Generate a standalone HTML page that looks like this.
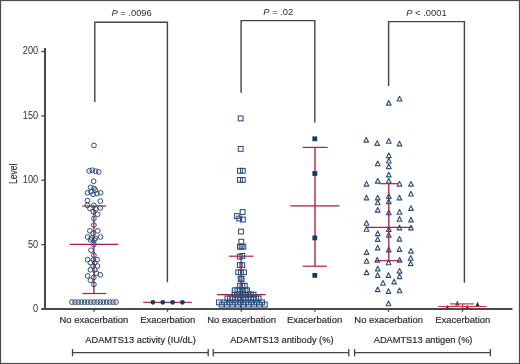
<!DOCTYPE html>
<html><head><meta charset="utf-8"><style>
html,body{margin:0;padding:0;background:#fff;width:520px;height:364px;overflow:hidden}
svg{display:block;will-change:transform}
</style></head><body>
<svg width="520" height="364" viewBox="0 0 520 364">
<rect x="0" y="0" width="520" height="364" fill="#fff"/>
<line x1="93.9" y1="205.6" x2="93.9" y2="293.5" stroke="#b41c42" stroke-width="1.35"/>
<line x1="69.6" y1="244.4" x2="118.1" y2="244.4" stroke="#b41c42" stroke-width="1.2"/>
<line x1="82.3" y1="206.0" x2="106.3" y2="206.0" stroke="#b41c42" stroke-width="1.2"/>
<line x1="82.3" y1="293.5" x2="106.3" y2="293.5" stroke="#b41c42" stroke-width="1.2"/>
<line x1="143.2" y1="302.3" x2="191.9" y2="302.3" stroke="#c0304c" stroke-width="1.2"/>
<line x1="241.1" y1="256.2" x2="241.1" y2="308" stroke="#b41c42" stroke-width="1.35"/>
<line x1="217" y1="294.7" x2="265.6" y2="294.7" stroke="#b41c42" stroke-width="1.2"/>
<line x1="228.9" y1="256.2" x2="253.4" y2="256.2" stroke="#b41c42" stroke-width="1.2"/>
<line x1="315" y1="147.4" x2="315" y2="266.2" stroke="#b41c42" stroke-width="1.35"/>
<line x1="290.3" y1="205.9" x2="339.4" y2="205.9" stroke="#b41c42" stroke-width="1.2"/>
<line x1="302.7" y1="147.4" x2="327.7" y2="147.4" stroke="#b41c42" stroke-width="1.2"/>
<line x1="302.7" y1="266.2" x2="326.9" y2="266.2" stroke="#b41c42" stroke-width="1.2"/>
<line x1="388.8" y1="183.7" x2="388.8" y2="260.7" stroke="#b41c42" stroke-width="1.35"/>
<line x1="366.9" y1="227.4" x2="412.3" y2="227.4" stroke="#b41c42" stroke-width="1.2"/>
<line x1="379.7" y1="183.7" x2="398.2" y2="183.7" stroke="#b41c42" stroke-width="1.2"/>
<line x1="375" y1="260.7" x2="401.8" y2="260.7" stroke="#b41c42" stroke-width="1.2"/>
<g fill="none" stroke="#2b4d7c" stroke-width="1.0"><circle cx="94.00" cy="145.40" r="2.35"/><circle cx="89.20" cy="170.90" r="2.35"/><circle cx="92.30" cy="170.20" r="2.35"/><circle cx="95.50" cy="171.20" r="2.35"/><circle cx="98.80" cy="171.90" r="2.35"/><circle cx="93.60" cy="181.30" r="2.35"/><circle cx="90.70" cy="187.40" r="2.35"/><circle cx="94.00" cy="188.30" r="2.35"/><circle cx="95.30" cy="190.20" r="2.35"/><circle cx="87.60" cy="192.80" r="2.35"/><circle cx="91.00" cy="191.80" r="2.35"/><circle cx="93.10" cy="194.40" r="2.35"/><circle cx="96.90" cy="193.60" r="2.35"/><circle cx="100.60" cy="192.80" r="2.35"/><circle cx="87.40" cy="200.50" r="2.35"/><circle cx="100.30" cy="201.10" r="2.35"/><circle cx="87.40" cy="205.40" r="2.35"/><circle cx="93.90" cy="205.40" r="2.35"/><circle cx="89.90" cy="208.40" r="2.35"/><circle cx="100.30" cy="207.90" r="2.35"/><circle cx="95.80" cy="208.90" r="2.35"/><circle cx="93.40" cy="211.80" r="2.35"/><circle cx="97.60" cy="214.30" r="2.35"/><circle cx="93.90" cy="218.50" r="2.35"/><circle cx="93.90" cy="225.10" r="2.35"/><circle cx="89.90" cy="230.90" r="2.35"/><circle cx="97.80" cy="230.90" r="2.35"/><circle cx="93.10" cy="233.20" r="2.35"/><circle cx="87.60" cy="237.00" r="2.35"/><circle cx="100.50" cy="237.00" r="2.35"/><circle cx="91.50" cy="238.10" r="2.35"/><circle cx="95.30" cy="238.30" r="2.35"/><circle cx="90.40" cy="239.80" r="2.35"/><circle cx="94.20" cy="239.80" r="2.35"/><circle cx="93.90" cy="244.40" r="2.35"/><circle cx="91.00" cy="250.20" r="2.35"/><circle cx="93.90" cy="255.20" r="2.35"/><circle cx="87.60" cy="259.60" r="2.35"/><circle cx="93.40" cy="259.80" r="2.35"/><circle cx="97.20" cy="259.60" r="2.35"/><circle cx="90.40" cy="262.70" r="2.35"/><circle cx="94.80" cy="262.70" r="2.35"/><circle cx="93.10" cy="266.00" r="2.35"/><circle cx="97.50" cy="266.00" r="2.35"/><circle cx="90.40" cy="269.80" r="2.35"/><circle cx="94.80" cy="269.80" r="2.35"/><circle cx="96.40" cy="273.10" r="2.35"/><circle cx="100.30" cy="274.80" r="2.35"/><circle cx="87.60" cy="275.90" r="2.35"/><circle cx="93.70" cy="277.50" r="2.35"/><circle cx="90.40" cy="280.30" r="2.35"/><circle cx="93.90" cy="284.50" r="2.35"/><circle cx="71.90" cy="302.10" r="2.35"/><circle cx="75.06" cy="302.10" r="2.35"/><circle cx="78.21" cy="302.10" r="2.35"/><circle cx="81.37" cy="302.10" r="2.35"/><circle cx="84.53" cy="302.10" r="2.35"/><circle cx="87.69" cy="302.10" r="2.35"/><circle cx="90.84" cy="302.10" r="2.35"/><circle cx="94.00" cy="302.10" r="2.35"/><circle cx="97.16" cy="302.10" r="2.35"/><circle cx="100.31" cy="302.10" r="2.35"/><circle cx="103.47" cy="302.10" r="2.35"/><circle cx="106.63" cy="302.10" r="2.35"/><circle cx="109.79" cy="302.10" r="2.35"/><circle cx="112.94" cy="302.10" r="2.35"/><circle cx="116.10" cy="302.10" r="2.35"/></g>
<g fill="none" stroke="#2b4d7c" stroke-width="1.05"><rect x="238.30" y="116.00" width="4.8" height="4.8"/><rect x="238.30" y="146.50" width="4.8" height="4.8"/><rect x="237.50" y="168.40" width="4.8" height="4.8"/><rect x="240.40" y="168.40" width="4.8" height="4.8"/><rect x="237.50" y="177.50" width="4.8" height="4.8"/><rect x="240.40" y="177.50" width="4.8" height="4.8"/><rect x="240.20" y="209.60" width="4.8" height="4.8"/><rect x="234.50" y="213.60" width="4.8" height="4.8"/><rect x="236.80" y="216.10" width="4.8" height="4.8"/><rect x="240.50" y="217.20" width="4.8" height="4.8"/><rect x="238.60" y="229.20" width="4.8" height="4.8"/><rect x="238.90" y="239.30" width="4.8" height="4.8"/><rect x="237.50" y="244.30" width="4.8" height="4.8"/><rect x="239.20" y="244.30" width="4.8" height="4.8"/><rect x="240.90" y="244.30" width="4.8" height="4.8"/><rect x="237.40" y="254.20" width="4.8" height="4.8"/><rect x="239.90" y="253.50" width="4.8" height="4.8"/><rect x="237.40" y="262.70" width="4.8" height="4.8"/><rect x="239.90" y="262.70" width="4.8" height="4.8"/><rect x="235.80" y="269.90" width="4.8" height="4.8"/><rect x="238.50" y="269.90" width="4.8" height="4.8"/><rect x="241.60" y="269.90" width="4.8" height="4.8"/><rect x="238.20" y="276.50" width="4.8" height="4.8"/><rect x="239.20" y="276.50" width="4.8" height="4.8"/><rect x="237.60" y="283.30" width="4.8" height="4.8"/><rect x="240.00" y="283.30" width="4.8" height="4.8"/><rect x="242.40" y="283.30" width="4.8" height="4.8"/><rect x="232.30" y="287.90" width="4.8" height="4.8"/><rect x="235.00" y="287.90" width="4.8" height="4.8"/><rect x="237.70" y="287.90" width="4.8" height="4.8"/><rect x="240.40" y="287.90" width="4.8" height="4.8"/><rect x="243.10" y="287.90" width="4.8" height="4.8"/><rect x="244.70" y="287.90" width="4.8" height="4.8"/><rect x="232.20" y="292.20" width="4.8" height="4.8"/><rect x="234.90" y="292.20" width="4.8" height="4.8"/><rect x="237.60" y="292.20" width="4.8" height="4.8"/><rect x="240.30" y="292.20" width="4.8" height="4.8"/><rect x="243.00" y="292.20" width="4.8" height="4.8"/><rect x="245.70" y="292.20" width="4.8" height="4.8"/><rect x="248.40" y="292.20" width="4.8" height="4.8"/><rect x="251.10" y="292.20" width="4.8" height="4.8"/><rect x="225.00" y="296.00" width="4.8" height="4.8"/><rect x="227.60" y="296.00" width="4.8" height="4.8"/><rect x="230.20" y="296.00" width="4.8" height="4.8"/><rect x="232.80" y="296.00" width="4.8" height="4.8"/><rect x="235.40" y="296.00" width="4.8" height="4.8"/><rect x="238.00" y="296.00" width="4.8" height="4.8"/><rect x="240.60" y="296.00" width="4.8" height="4.8"/><rect x="243.20" y="296.00" width="4.8" height="4.8"/><rect x="245.80" y="296.00" width="4.8" height="4.8"/><rect x="248.40" y="296.00" width="4.8" height="4.8"/><rect x="251.00" y="296.00" width="4.8" height="4.8"/><rect x="253.60" y="296.00" width="4.8" height="4.8"/><rect x="256.20" y="296.00" width="4.8" height="4.8"/><rect x="216.50" y="300.00" width="4.8" height="4.8"/><rect x="221.90" y="300.00" width="4.8" height="4.8"/><rect x="227.30" y="300.00" width="4.8" height="4.8"/><rect x="232.70" y="300.00" width="4.8" height="4.8"/><rect x="238.10" y="300.00" width="4.8" height="4.8"/><rect x="243.50" y="300.00" width="4.8" height="4.8"/><rect x="248.90" y="300.00" width="4.8" height="4.8"/><rect x="254.30" y="300.00" width="4.8" height="4.8"/><rect x="259.70" y="300.00" width="4.8" height="4.8"/><rect x="219.20" y="302.20" width="4.8" height="4.8"/><rect x="224.60" y="302.20" width="4.8" height="4.8"/><rect x="230.00" y="302.20" width="4.8" height="4.8"/><rect x="235.40" y="302.20" width="4.8" height="4.8"/><rect x="240.80" y="302.20" width="4.8" height="4.8"/><rect x="246.20" y="302.20" width="4.8" height="4.8"/><rect x="251.60" y="302.20" width="4.8" height="4.8"/><rect x="257.00" y="302.20" width="4.8" height="4.8"/><rect x="262.40" y="302.20" width="4.8" height="4.8"/></g>
<g fill="none" stroke="#2b4d7c" stroke-width="1.1" stroke-linejoin="round"><polygon points="388.80,100.38 391.15,105.08 386.45,105.08"/><polygon points="399.50,96.28 401.85,100.98 397.15,100.98"/><polygon points="366.20,137.38 368.55,142.08 363.85,142.08"/><polygon points="377.20,140.68 379.55,145.38 374.85,145.38"/><polygon points="388.80,138.58 391.15,143.28 386.45,143.28"/><polygon points="399.50,141.18 401.85,145.88 397.15,145.88"/><polygon points="388.80,152.88 391.15,157.58 386.45,157.58"/><polygon points="388.80,158.28 391.15,162.98 386.45,162.98"/><polygon points="377.70,161.08 380.05,165.78 375.35,165.78"/><polygon points="388.80,163.88 391.15,168.58 386.45,168.58"/><polygon points="388.80,172.18 391.15,176.88 386.45,176.88"/><polygon points="377.70,178.38 380.05,183.08 375.35,183.08"/><polygon points="388.80,178.38 391.15,183.08 386.45,183.08"/><polygon points="366.50,181.38 368.85,186.08 364.15,186.08"/><polygon points="399.50,181.38 401.85,186.08 397.15,186.08"/><polygon points="411.00,181.38 413.35,186.08 408.65,186.08"/><polygon points="411.00,191.28 413.35,195.98 408.65,195.98"/><polygon points="366.50,195.18 368.85,199.88 364.15,199.88"/><polygon points="377.70,195.18 380.05,199.88 375.35,199.88"/><polygon points="388.80,193.78 391.15,198.48 386.45,198.48"/><polygon points="399.50,195.18 401.85,199.88 397.15,199.88"/><polygon points="377.70,200.08 380.05,204.78 375.35,204.78"/><polygon points="388.80,198.98 391.15,203.68 386.45,203.68"/><polygon points="377.70,207.38 380.05,212.08 375.35,212.08"/><polygon points="411.00,205.68 413.35,210.38 408.65,210.38"/><polygon points="388.80,209.98 391.15,214.68 386.45,214.68"/><polygon points="399.50,209.48 401.85,214.18 397.15,214.18"/><polygon points="399.50,216.58 401.85,221.28 397.15,221.28"/><polygon points="411.00,217.18 413.35,221.88 408.65,221.88"/><polygon points="366.50,220.48 368.85,225.18 364.15,225.18"/><polygon points="366.50,226.48 368.85,231.18 364.15,231.18"/><polygon points="399.50,225.18 401.85,229.88 397.15,229.88"/><polygon points="411.00,225.18 413.35,229.88 408.65,229.88"/><polygon points="388.80,226.78 391.15,231.48 386.45,231.48"/><polygon points="377.70,230.88 380.05,235.58 375.35,235.58"/><polygon points="388.80,232.58 391.15,237.28 386.45,237.28"/><polygon points="377.70,236.68 380.05,241.38 375.35,241.38"/><polygon points="399.50,236.38 401.85,241.08 397.15,241.08"/><polygon points="377.70,245.18 380.05,249.88 375.35,249.88"/><polygon points="388.80,247.18 391.15,251.88 386.45,251.88"/><polygon points="399.50,246.68 401.85,251.38 397.15,251.38"/><polygon points="411.00,248.38 413.35,253.08 408.65,253.08"/><polygon points="366.60,249.68 368.95,254.38 364.25,254.38"/><polygon points="366.60,258.58 368.95,263.28 364.25,263.28"/><polygon points="377.30,257.38 379.65,262.08 374.95,262.08"/><polygon points="388.60,260.08 390.95,264.78 386.25,264.78"/><polygon points="399.60,257.38 401.95,262.08 397.25,262.08"/><polygon points="410.70,255.58 413.05,260.28 408.35,260.28"/><polygon points="410.70,260.93 413.05,265.63 408.35,265.63"/><polygon points="377.70,266.18 380.05,270.88 375.35,270.88"/><polygon points="366.60,269.88 368.95,274.58 364.25,274.58"/><polygon points="377.70,272.68 380.05,277.38 375.35,277.38"/><polygon points="388.50,272.68 390.85,277.38 386.15,277.38"/><polygon points="399.60,268.38 401.95,273.08 397.25,273.08"/><polygon points="399.60,273.88 401.95,278.58 397.25,278.58"/><polygon points="383.00,280.48 385.35,285.18 380.65,285.18"/><polygon points="394.10,279.18 396.45,283.88 391.75,283.88"/><polygon points="377.70,286.88 380.05,291.58 375.35,291.58"/><polygon points="388.50,288.68 390.85,293.38 386.15,293.38"/><polygon points="399.60,288.08 401.95,292.78 397.25,292.78"/><polygon points="388.50,301.08 390.85,305.78 386.15,305.78"/></g>
<circle cx="152.9" cy="302.3" r="2.4" fill="#163a60"/>
<circle cx="162.8" cy="302.3" r="2.4" fill="#163a60"/>
<circle cx="172.6" cy="302.3" r="2.4" fill="#163a60"/>
<circle cx="182.4" cy="302.3" r="2.4" fill="#163a60"/>
<rect x="312.40000000000003" y="136.4" width="4.8" height="4.8" fill="#163a60"/>
<rect x="312.40000000000003" y="171.1" width="4.8" height="4.8" fill="#163a60"/>
<rect x="312.40000000000003" y="235.5" width="4.8" height="4.8" fill="#163a60"/>
<rect x="312.40000000000003" y="273.0" width="4.8" height="4.8" fill="#163a60"/>
<polygon points="457.30,300.84 459.50,305.44 455.10,305.44" fill="#163a60"/>
<polygon points="477.50,301.84 479.70,306.44 475.30,306.44" fill="#163a60"/>
<polygon points="447.40,304.84 449.60,309.44 445.20,309.44" fill="#163a60"/>
<polygon points="467.20,304.84 469.40,309.44 465.00,309.44" fill="#163a60"/>
<line x1="462.5" y1="303.9" x2="462.5" y2="308.5" stroke="#c8304c" stroke-width="1.2"/>
<line x1="438.1" y1="306.5" x2="486.4" y2="306.5" stroke="#c8304c" stroke-width="1.2"/>
<line x1="450" y1="303.9" x2="473.9" y2="303.9" stroke="#c8304c" stroke-width="1.2"/>
<g stroke="#4a4a4a" stroke-width="2" fill="none">
<line x1="45" y1="48" x2="45" y2="310"/>
<line x1="41.3" y1="309" x2="512.5" y2="309"/>
<line x1="41.3" y1="51.50" x2="45" y2="51.50" stroke-width="1.3"/>
<line x1="41.3" y1="115.88" x2="45" y2="115.88" stroke-width="1.3"/>
<line x1="41.3" y1="180.25" x2="45" y2="180.25" stroke-width="1.3"/>
<line x1="41.3" y1="244.62" x2="45" y2="244.62" stroke-width="1.3"/>
<line x1="94.0" y1="309" x2="94.0" y2="311.8" stroke-width="1.3"/>
<line x1="167.5" y1="309" x2="167.5" y2="311.8" stroke-width="1.3"/>
<line x1="241.3" y1="309" x2="241.3" y2="311.8" stroke-width="1.3"/>
<line x1="314.9" y1="309" x2="314.9" y2="311.8" stroke-width="1.3"/>
<line x1="388.4" y1="309" x2="388.4" y2="311.8" stroke-width="1.3"/>
<line x1="462.5" y1="309" x2="462.5" y2="311.8" stroke-width="1.3"/>
</g>
<g stroke="#444" stroke-width="1.4" fill="none">
<polyline points="94.8,102 94.8,22.2 167.4,22.2 167.4,282.3"/>
<polyline points="241.1,92.7 241.1,20.6 314.8,20.6 314.8,122.5"/>
<polyline points="388.6,86 388.6,21.6 464.4,21.6 464.4,282.7"/>
</g>
<g stroke="#444" stroke-width="1.3" fill="none">
<line x1="72.5" y1="352.6" x2="208.2" y2="352.6"/>
<line x1="72.5" y1="349" x2="72.5" y2="356.3"/>
<line x1="208.2" y1="349" x2="208.2" y2="356.3"/>
<line x1="213.2" y1="352.6" x2="348.8" y2="352.6"/>
<line x1="213.2" y1="349" x2="213.2" y2="356.3"/>
<line x1="348.8" y1="349" x2="348.8" y2="356.3"/>
<line x1="354.6" y1="352.6" x2="490.4" y2="352.6"/>
<line x1="354.6" y1="349" x2="354.6" y2="356.3"/>
<line x1="490.4" y1="349" x2="490.4" y2="356.3"/>
</g>
<text x="0" y="0" font-size="10" text-anchor="end" style="font-family:'Liberation Sans', sans-serif;fill:#2e2e2e" transform="translate(38.2,54.40) scale(0.92,1)">200</text>
<text x="0" y="0" font-size="10" text-anchor="end" style="font-family:'Liberation Sans', sans-serif;fill:#2e2e2e" transform="translate(38.2,118.78) scale(0.92,1)">150</text>
<text x="0" y="0" font-size="10" text-anchor="end" style="font-family:'Liberation Sans', sans-serif;fill:#2e2e2e" transform="translate(38.2,183.15) scale(0.92,1)">100</text>
<text x="0" y="0" font-size="10" text-anchor="end" style="font-family:'Liberation Sans', sans-serif;fill:#2e2e2e" transform="translate(38.2,247.53) scale(0.92,1)">50</text>
<text x="0" y="0" font-size="10" text-anchor="end" style="font-family:'Liberation Sans', sans-serif;fill:#2e2e2e" transform="translate(38.2,311.90) scale(0.92,1)">0</text>
<text x="0" y="0" font-size="10.8" text-anchor="middle" textLength="20.4" lengthAdjust="spacingAndGlyphs" style="font-family:'Liberation Sans', sans-serif;fill:#2a2a2a;stroke:#2a2a2a;stroke-width:0.18px" transform="translate(16.8,173.9) rotate(-90)">Level</text>
<text x="131.6" y="16.4" font-size="9.4" text-anchor="middle" style="font-family:'Liberation Sans', sans-serif;fill:#2e2e2e" ><tspan font-style="italic">P</tspan> = .0096</text>
<text x="278.3" y="15.0" font-size="9.4" text-anchor="middle" style="font-family:'Liberation Sans', sans-serif;fill:#2e2e2e" ><tspan font-style="italic">P</tspan> = .02</text>
<text x="426.4" y="15.7" font-size="9.4" text-anchor="middle" style="font-family:'Liberation Sans', sans-serif;fill:#2e2e2e" ><tspan font-style="italic">P</tspan> &lt; .0001</text>
<text x="93.9" y="323.3" font-size="9.45" text-anchor="middle" style="font-family:'Liberation Sans', sans-serif;fill:#2a2a2a;stroke:#2a2a2a;stroke-width:0.18px" >No exacerbation</text>
<text x="167.8" y="323.3" font-size="9.45" text-anchor="middle" style="font-family:'Liberation Sans', sans-serif;fill:#2a2a2a;stroke:#2a2a2a;stroke-width:0.18px" >Exacerbation</text>
<text x="241.6" y="323.3" font-size="9.45" text-anchor="middle" style="font-family:'Liberation Sans', sans-serif;fill:#2a2a2a;stroke:#2a2a2a;stroke-width:0.18px" >No exacerbation</text>
<text x="314.6" y="323.3" font-size="9.45" text-anchor="middle" style="font-family:'Liberation Sans', sans-serif;fill:#2a2a2a;stroke:#2a2a2a;stroke-width:0.18px" >Exacerbation</text>
<text x="388.7" y="323.3" font-size="9.45" text-anchor="middle" style="font-family:'Liberation Sans', sans-serif;fill:#2a2a2a;stroke:#2a2a2a;stroke-width:0.18px" >No exacerbation</text>
<text x="462.8" y="323.3" font-size="9.45" text-anchor="middle" style="font-family:'Liberation Sans', sans-serif;fill:#2a2a2a;stroke:#2a2a2a;stroke-width:0.18px" >Exacerbation</text>
<text x="140.6" y="343.0" font-size="9.25" text-anchor="middle" style="font-family:'Liberation Sans', sans-serif;fill:#2a2a2a;stroke:#2a2a2a;stroke-width:0.18px" >ADAMTS13 activity (IU/dL)</text>
<text x="281.8" y="343.0" font-size="9.25" text-anchor="middle" style="font-family:'Liberation Sans', sans-serif;fill:#2a2a2a;stroke:#2a2a2a;stroke-width:0.18px" >ADAMTS13 antibody (%)</text>
<text x="423.1" y="343.0" font-size="9.25" text-anchor="middle" style="font-family:'Liberation Sans', sans-serif;fill:#2a2a2a;stroke:#2a2a2a;stroke-width:0.18px" >ADAMTS13 antigen (%)</text>
<rect x="0.5" y="0.5" width="519" height="363" fill="none" stroke="#4a4a4a" stroke-width="1.2"/>
</svg>
</body></html>
